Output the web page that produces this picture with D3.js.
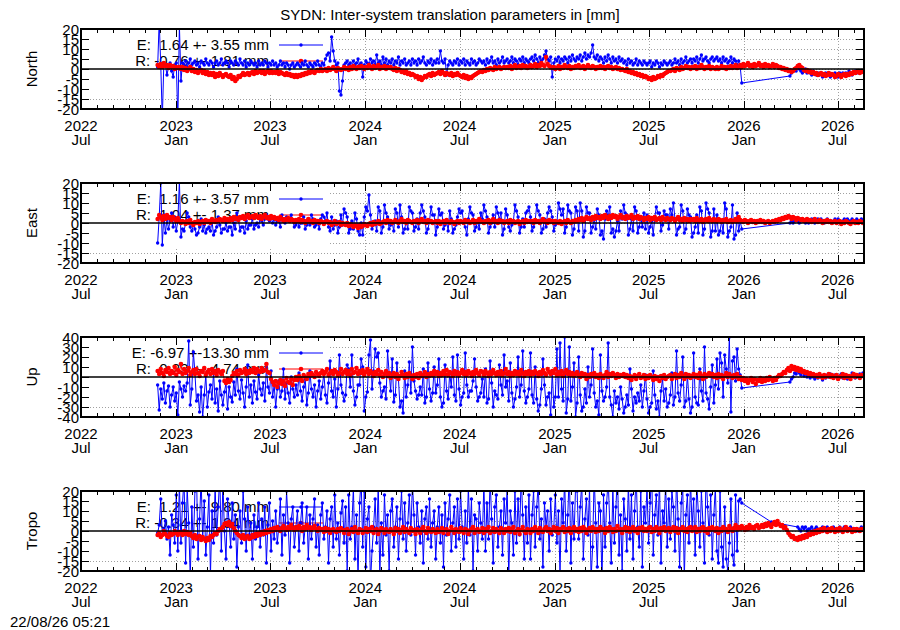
<!DOCTYPE html>
<html><head><meta charset="utf-8">
<script src="https://cdn.jsdelivr.net/npm/d3@7"></script>
<style>
body{margin:0;background:#fff}
text{font-family:"Liberation Sans",Arial,Helvetica,sans-serif;font-size:15px;fill:#000}
</style>
</head><body>
<svg id="chart" width="900" height="630"></svg>
<script>
// ---------------- data ----------------
const TITLE = "SYDN: Inter-system translation parameters in [mm]";
const STAMP = "22/08/26 05:21";
const START = "2022-11-26";      // first sample
const STEP_DAYS = 3;             // sample spacing (days)
const X_DOMAIN = ["2022-07-01", "2026-08-21"];
const panelNames = ["North", "East", "Up", "Tropo"];
const yTicks20 = [-20, -15, -10, -5, 0, 5, 10, 15, 20];
const yTicks40 = [-40, -30, -20, -10, 0, 10, 20, 30, 40];
const legendE = ["E:  1.64 +- 3.55 mm", "E:  1.16 +- 3.57 mm", "E: -6.97 +-13.30 mm", "E:  1.21 +- 9.80 mm"];
const legendR = ["R: -0.76 +- 1.81 mm", "R:  1.04 +- 1.37 mm", "R:  0.23 +- 4.74 mm", "R: -0.34 +- 1.94 mm"];
const _ = null;

const northE = [
1,24,2,-25,3,2,-3,1,3,-1,-4,2,3,-26,22,
-6,3,2,4,1,3,5,2,3,4,2,3,1,4,3,
2,5,3,2,4,3,1,3,4,2,3,5,2,3,4,
3,1,4,3,2,4,3,2,5,3,2,4,1,3,2,
4,3,2,3,1,4,2,3,2,4,3,1,3,2,4,
2,3,1,2,4,2,3,1,3,2,0,2,3,1,2,
3,2,1,3,2,4,2,1,3,2,1,3,2,4,2,
1,3,2,5,7,8,4,16,9,4,2,3,-11,-13,-6,
2,3,4,2,3,1,4,2,3,5,2,3,-4,2,4,
3,2,5,3,4,2,7,3,4,2,6,3,5,2,4,
3,5,2,4,3,6,2,4,3,5,2,3,4,2,5,
3,4,2,5,3,4,6,3,2,4,3,5,2,4,3,
5,3,9,4,3,5,-3,2,4,3,2,4,3,5,2,
4,3,5,2,4,3,2,5,3,4,2,3,5,4,3,
4,2,5,3,4,6,3,4,2,5,3,4,6,3,4,
5,3,4,6,3,5,4,2,5,4,6,3,5,4,3,
5,6,4,7,5,3,6,4,5,7,9,5,4,6,-4,
3,5,4,6,3,5,4,6,5,3,6,4,7,5,4,
6,5,7,4,6,8,5,7,6,8,12,6,5,7,4,
6,5,3,6,4,7,5,3,6,4,5,3,6,4,5,
3,4,2,5,3,4,2,3,5,2,4,3,2,4,3,
2,3,4,1,3,2,4,3,1,3,2,4,3,2,3,
4,2,3,5,3,4,2,5,3,4,6,3,4,5,3,
5,4,6,3,5,7,4,5,6,4,3,5,6,4,5,
6,4,5,3,6,4,5,3,4,6,3,5,4,2,4,
1,-7,_,_,_,_,_,_,_,_,_,_,_,_,_,
_,_,_,_,_,_,_,_,_,_,_,_,_,_,_,
_,_,-3.5,-2,-1,0,-1,1,0,-1,-2,-1,0,-2,-1,
-2,-3,-1,-2,-3,-2,-3,-2,-4,-3,-2,-3,-2,-4,-3,
-3,-2,-3,-4,-2,-3,-2,-3,-2,-3,-1,-2,-3,-2,-1,
-2,-1,-2,-1,-1];
const northR = [
2,1,2.5,1,3,1.5,2,0.5,2,1,1.5,0,1,0.5,1,
0,1,-0.5,0.5,-1,0,1,-1,0,-1.5,-0.5,-2,-1,-0.5,-2,
-1,-2.5,-1.5,-3,-2,-3,-2,-4,-2.5,-3.5,-2,-3,-4,-3,-2.5,
-3.5,-4,-3,-5,-4,-6,-5,-3.5,-4,-3,-2,-3,-2.5,-2,-3,
-2,-1.5,-2.5,-1,-2,-1.5,-1,-2,-1,-2.5,-1.5,-1,-2,-1,-2,
-1.5,-2,-1,-2.5,-1.5,-2,-2.5,-3,-2,-3,-2.5,-3.5,-3,-4,-3,
-4,-3,-3.5,-2.5,-3,-2,-2.5,-1.5,-2,-1,-1.5,-2,-1,-0.5,-1,
0,-1,-0.5,0,-1,0.5,-0.5,0,1,0,-1,0.5,0,-0.5,0,
1,0,0.5,-0.5,1,0,1.5,0.5,0,1,0.5,1.5,1,0,1,
0.5,2,1,0,1.5,0.5,1,2,0,1,0.5,1.5,0,1,0.5,
1,0,-0.5,0.5,-1,0,-0.5,-1.5,-1,-2,-1,-2.5,-2,-3,-2.5,
-3,-4,-3.5,-5,-4,-5.5,-4.5,-3.5,-4,-3,-2.5,-3.5,-2,-3,-2.5,
-2,-1.5,-2.5,-1,-2,-3,-2,-2.5,-3,-2,-3.5,-2.5,-3,-2,-3,
-3.5,-4,-3,-4.5,-3.5,-5,-4,-4.5,-3.5,-3,-2.5,-2,-1.5,-1,-1.5,
-0.5,-1,0,-0.5,0.5,0,-0.5,1,0,0.5,1,0,0.5,1,0.5,
1,0.5,1.5,0,1,2,0.5,1,1.5,0.5,2,1,1.5,0.5,1,
2,1,1.5,2.5,1,2,1.5,3,2,1.5,6,2.5,1.5,1,0.5,
1,0,0.5,1.5,0,1,0.5,2,1,0.5,1.5,0,1,0.5,1.5,
1,2,0.5,1,1.5,0,1,2,1,0.5,1.5,1,0,1,0.5,
1.5,0.5,1,0,1,1.5,0.5,1,0,0.5,1,0,0.5,-0.5,0,
-0.5,-1,0,-1.5,-1,-2,-1.5,-2.5,-2,-3,-2.5,-3.5,-3,-4,-3.5,
-4,-5,-4.5,-5.5,-4,-5,-4.5,-3.5,-4,-3,-3.5,-2.5,-2,-1.5,-1,
-1,-0.5,0,-1,0.5,0,-0.5,1,0,0.5,1.5,0.5,1,0,1,
0.5,1.5,0,1,0.5,2,1,0,1,0.5,1.5,0,1,0.5,0,
1,0,0.5,1.5,0.5,1,0,1,0.5,1.5,0.5,1,2,0.5,1,
2,1,2.5,1.5,2,3,1.5,2,1,2.5,1.5,2,3,1.5,2,
1,2.5,1.5,2,1,1.5,2.5,1,2,1.5,0.5,1,0,0.5,-0.5,
0,-1,-0.5,-1.5,-1,0,0.5,1.5,2,1,0.5,-0.5,-1,-0.5,-1.5,
-1,-2,-1.5,-2.5,-2,-3,-2.5,-2,-3,-2.5,-3.5,-3,-2,-3,-2.5,
-3,-4,-3.5,-2.5,-3,-4,-3,-2.5,-3.5,-2.5,-3,-2,-2.5,-1.5,-2,
-1.5,-1,-2,-1,-1.5];
const eastE = [
-10,3,20,-11,4,-5,2,-3,1,5,-2,3,-4,1,21,
-7,-3,-4,0,5,3,-2,-4,-1,-3,-6,-5,-2,2,-4,
-1,-5,-3,-2,-4,1,-6,-4,-2,3,-1,-5,-3,-3,0,
-4,-2,-2,-6,0,-3,5,2,-4,-2,-2,-5,1,-3,-1,
-1,2,-3,-1,0,-2,3,1,-1,2,4,2,1,3,0,
2,-1,1,1,-2,4,2,0,3,1,2,4,1,-2,-1,
1,-2,0,0,3,-3,-1,2,-1,4,2,-2,-1,1,-3,
2,4,3,1,5,-2,-4,3,-3,-1,1,-5,-2,4,-1,
7,5,3,-5,-3,1,-3,5,2,-4,-6,0,-6,3,8,
6,14,4,-3,-1,1,-4,8,6,-5,-2,9,5,3,-3,
-1,0,-4,7,5,-2,9,3,-5,-3,1,-3,8,6,5,
-4,-2,2,-3,5,9,6,3,-5,-3,1,8,4,4,-6,
-2,7,4,5,-3,-1,1,-4,6,2,-5,-3,-1,3,7,
5,6,0,-2,-6,2,8,5,4,-4,-2,1,-3,5,2,
9,6,3,-5,-2,0,4,-2,8,5,2,5,-6,-3,7,
4,-2,-4,-1,1,9,6,3,-5,-2,2,-2,5,6,8,
3,-4,-2,1,9,6,4,-5,-3,2,-2,5,8,6,3,
-4,-1,0,10,7,4,7,-5,-2,9,6,5,-6,-3,8,
6,-4,10,6,-7,-4,8,5,5,-5,-2,2,-3,7,4,
-6,-4,-8,2,6,3,8,-5,-3,-7,-4,1,-4,6,2,
9,5,4,-6,-3,2,-4,8,6,-5,-2,3,-2,5,-3,
4,-5,-2,1,-6,3,8,5,5,-4,-1,6,4,4,-3,
7,4,10,2,-6,-3,-2,9,6,-5,-3,7,4,3,-7,
-5,-2,4,-5,8,6,-6,-3,10,7,5,-7,-4,7,-4,
4,-6,-4,1,-5,10,7,-7,-4,-2,9,-8,-6,5,-4,
1,-3,_,_,_,_,_,_,_,_,_,_,_,_,_,
_,_,_,_,_,_,_,_,_,_,_,_,_,_,_,
_,_,0,1,0,1,2,1,0,1,2,1,0,1,0,
1,2,1,0,1,2,1,2,1,0,1,2,1,1,0,
1,2,1,2,1,0,1,2,1,2,1,1,2,1,1,
2,1,1,2,1];
const eastR = [
2,4,3,1.5,3.5,2,4,2.5,3,1.5,3,2,1,2.5,1,
0,1,0.5,-0.5,1,0,1.5,0,-1,0.5,0,1,-0.5,0.5,1,
0,1.5,0.5,1,0,2,1,0.5,1.5,1,2,1.5,1,2.5,1.5,
2,1,2.5,1.5,3,2,2.5,1.5,3,2.5,3.5,2,3,4,2.5,
3,3.5,2.5,4,3,2.5,3.5,2,3,4,2.5,3,2,3.5,2.5,
3,2,2.5,1.5,3,2,1,2,1.5,2.5,1,2,1.5,0.5,1.5,
1,2,0.5,1.5,1,0,1,2,0.5,1,0,1.5,0.5,1,0,
1,0.5,-0.5,0.5,1,0,0.5,-1,0,1,-0.5,0,0.5,-1,0,
-0.5,-1,0,-1.5,-0.5,-1,-2,-1,-1.5,-2.5,-1,-2,-1.5,-0.5,-1,
-1.5,-0.5,0,-1,0.5,-0.5,0,1,-0.5,0,0.5,1,0,1.5,0.5,
1,0,0.5,1.5,0.5,0,1,2,0.5,1,0,1.5,1,0.5,0,
1,0.5,1.5,0,1,2,0.5,1,0,1.5,0.5,1,0,0.5,1,
0,1,-0.5,0.5,1,0,1.5,0.5,0,1,0.5,-0.5,0.5,1,0,
1,0.5,0,1.5,0.5,1,0,0.5,1.5,0,1,0.5,2,1,0.5,
0,1,0.5,1.5,0,1,2,0.5,1,0,1.5,0.5,1,0,0.5,
1,0,1.5,0.5,1,0,0.5,1,-0.5,0.5,1,0,1.5,0.5,1,
0.5,1,0,1.5,0.5,1,0,1,2,0.5,1,0,1.5,0.5,1,
0,1,0.5,0,1,-0.5,0.5,1,0,1.5,0.5,0,1,0.5,1.5,
1,2,1.5,2.5,1,2,3,2,2.5,1.5,3,2,3.5,2.5,3,
2,3.5,2.5,4,3,2,3.5,2.5,4,3,3.5,2,3,4,2.5,
3,2,3.5,2.5,3,4,2,3,2.5,3.5,2,3,2.5,1.5,2.5,
2,3,1.5,2.5,2,3,1.5,2,2.5,1.5,3,2,1.5,2.5,2,
1.5,2.5,2,1,2,3,1.5,2,1,2.5,1.5,2,1,2,1.5,
2,1,2.5,1.5,1,2,0.5,1.5,2,1,2.5,1.5,1,2,1.5,
1,2,1.5,0.5,1.5,1,2,0.5,1,1.5,0.5,1,2,1,3,
1.5,1,0.5,1.5,1,0,1,1.5,0.5,1,0,1,0.5,1.5,0.5,
1,0,0.5,1,0,0.5,1,0.5,1.5,1,2,1.5,2.5,2,3,
2.5,3.5,3,2,3,2.5,1.5,2.5,2,1.5,2,1,1.5,2,1,
1.5,0.5,1,2,1,0.5,1.5,1,0,1,0.5,1.5,0.5,1,0,
0.5,1,0,0.5,1,-0.5,0.5,0,1,0.5,0,-0.5,0.5,1,0,
0.5,0,1,0.5,0];
const upE = [
-8,-33,-12,-22,-6,-26,-14,-9,-30,-18,-10,-24,-16,-38,-5,
-12,-20,-9,-14,-6,36,-28,-12,25,4,-24,-18,-35,-10,-40,
-18,2,-30,-15,-8,-22,5,-26,-12,-34,-4,-18,-28,-15,-6,
-32,-10,-20,-25,-5,-18,8,-14,-22,-3,-16,-30,-10,12,-20,
-8,-26,-4,-15,-22,2,-12,-18,-6,-24,10,-10,-16,6,-20,
-8,-30,-12,-4,-20,-14,8,-22,-6,-16,-26,0,-12,-20,-8,
-18,4,-14,-24,-10,-2,-28,-16,6,-12,-20,-8,-30,-14,-4,
-22,-10,4,-18,-26,-6,16,-14,-20,-2,-30,-12,22,-8,-16,
-24,-18,12,8,-10,22,-14,-28,-20,-8,-8,18,10,-34,-20,
-15,22,37,-12,6,28,20,24,-6,-20,-14,-10,-22,26,4,
-14,18,-25,-18,14,-2,-30,-24,-36,6,-20,-8,15,-16,30,
-4,-14,-22,-18,-10,-18,8,-26,-20,14,-12,-24,-16,10,-16,
-8,18,-20,-30,-26,12,-14,-22,4,-10,20,-18,-24,22,-12,
-28,-20,-16,24,-8,-20,-14,-14,-4,18,-10,-24,-20,-16,-2,
-20,8,-26,-22,16,-6,-30,-14,-18,-22,12,-8,-18,22,-10,
-4,-24,14,-16,-30,-22,-10,20,-20,-8,26,-14,-26,-20,-12,
24,-18,-26,10,-22,-34,-28,-12,18,-8,-28,-20,-16,-38,6,
-30,-20,28,-20,34,-12,-24,40,-36,-22,30,-24,-10,14,-40,
-26,20,-18,-34,-30,-12,-26,10,-20,-8,28,-16,-30,-24,-38,
22,-14,-24,-20,-10,34,-20,-28,-40,-14,-26,-20,-32,-10,-22,
-36,-30,-18,-28,8,-12,-34,-20,-26,-16,-24,-8,-30,-14,2,
-22,-36,-30,-26,6,-18,-32,-24,-40,-14,-2,-24,-12,-30,-26,
-18,4,-28,-20,26,-16,-24,-8,20,-30,-24,2,-22,-36,-30,
24,-20,-26,-28,8,-14,-24,30,-16,-22,-32,-10,12,-26,-8,
18,-12,24,14,-20,22,8,-6,40,-35,16,20,-4,28,8,
2,-11,_,_,_,_,_,_,_,_,_,_,_,_,_,
_,_,_,_,_,_,_,_,_,_,_,_,_,_,_,
_,_,-5,-2,0,4,3,6,4,2,5,1,3,0,2,
-1,1,0,-2,1,-1,2,0,-3,1,-1,2,0,3,1,
-1,2,0,-2,1,3,-1,0,2,-2,1,0,4,1,-1,
2,0,3,1,4];
const upR = [
6,3,8,4,1,7,5,9,3,6,4,10,2,7,5,
13,3,8,4,6,9,2,5,7,3,8,4,1,6,5,
9,2,5,7,3,8,4,6,2,7,5,3,6,-4,-6,
-2,-5,-3,1,4,3,6,2,7,4,5,8,3,6,4,
7,5,9,4,8,6,5,9,6,7,13,5,4,-2,-5,
-8,-4,-10,-6,-3,-7,-4,-9,-1,-5,-6,-2,-8,-3,0,
-3,1,-1,-4,2,0,-2,3,1,4,2,0,5,3,1,
4,6,3,5,8,2,4,6,3,7,5,2,4,8,3,
5,7,3,6,2,8,4,5,9,3,6,4,7,2,5,
8,3,6,4,1,5,3,7,2,5,0,3,6,1,4,
-1,2,4,0,3,-2,1,5,2,-1,3,0,4,1,-2,
2,0,3,-1,4,1,2,5,0,3,1,4,2,6,3,
5,1,4,2,6,3,7,2,5,4,1,6,3,5,2,
4,7,3,5,2,6,4,1,5,3,7,4,2,6,5,
2,6,4,1,5,3,7,4,2,5,3,6,2,4,8,
3,5,1,4,2,6,3,5,2,7,4,1,5,3,6,
2,5,3,6,4,1,5,3,7,4,2,8,5,3,6,
4,8,2,5,3,6,1,4,7,3,5,2,4,1,3,
5,2,0,4,1,3,-2,2,0,3,1,4,0,2,-1,
3,1,-1,2,5,0,3,1,4,2,-1,3,0,2,1,
3,0,2,-1,1,-3,0,2,-2,1,3,-1,0,2,-2,
1,-1,2,0,-3,1,-2,0,-4,1,-1,2,-2,0,1,
2,-2,1,3,-1,2,0,4,1,-2,3,0,2,-1,1,
3,0,2,-1,4,1,-2,3,0,2,4,1,3,0,2,
-1,3,0,2,-2,1,4,0,3,1,-1,2,0,3,-2,
0,-3,-1,-4,-2,-6,-3,-1,-5,-2,-7,-3,-4,-1,-5,
-2,-4,-1,-3,0,-2,-4,-1,-3,0,2,1,3,5,4,
7,9,6,11,8,10,7,9,6,8,5,6,4,5,3,
4,2,3,1,2,0,3,1,-1,2,0,1,3,0,2,
-1,1,2,-2,0,1,3,-1,2,0,1,-2,1,3,0,
2,1,-1,2,1];
const tropoE = [
-1,3,16,-2,1,5,-4,2,-12,8,3,-6,18,-10,24,
-6,14,26,-16,22,4,-24,12,-8,20,30,-14,6,26,-4,
15,-12,2,18,-22,10,-6,22,-2,12,28,-10,25,0,-14,
16,4,-8,14,-4,8,-18,2,10,-6,20,6,-10,12,-2,
4,-14,8,-4,2,14,-8,6,-2,12,-16,3,14,-10,5,
-4,10,-6,2,16,-12,8,-2,20,4,-16,6,12,-8,2,
10,-10,4,14,-6,2,12,-14,8,-4,6,16,-8,3,-12,
8,14,-4,2,10,-16,6,12,-8,18,-4,4,-12,9,15,
-6,12,-20,18,-4,2,22,-14,8,-24,14,26,-8,20,-18,
6,12,-26,-10,2,16,-6,24,-22,4,-12,18,-2,8,-20,
10,16,-8,2,12,-14,6,20,-4,14,-10,4,18,-2,24,
8,-12,14,2,-6,10,-16,6,12,-4,16,-8,4,10,-14,
2,12,-6,8,-18,14,-2,6,18,-10,4,12,-8,16,-4,
20,2,-14,10,-6,22,-2,16,-20,8,6,-10,14,4,-4,
24,-10,14,-4,26,6,-16,12,18,-8,2,10,-12,16,4,
22,-24,10,4,-12,20,-6,16,-2,28,8,-14,12,-6,18,
-14,8,20,-8,12,24,-4,6,-18,14,2,10,-10,16,-2,
2,18,-6,10,-22,16,4,26,-10,8,30,-16,14,-4,22,
20,-4,12,24,-14,6,16,-2,22,-24,-8,28,4,-18,14,
10,-26,18,-8,14,26,4,-16,22,-6,12,30,-12,8,-20,
16,6,-10,24,-4,18,-14,10,28,2,-8,20,-18,12,4,
22,-6,14,30,-12,8,18,-2,26,-16,10,4,24,-8,16,
-4,20,12,-10,28,6,-18,14,22,-24,8,18,-6,26,2,
16,-12,24,10,-8,20,4,-16,30,12,-2,18,-14,8,22,
-10,-16,20,-8,-18,12,-14,-20,-6,16,-12,-17,18,-10,15,
16,14,_,_,_,_,_,_,_,_,_,_,_,_,_,
_,_,_,_,_,4.5,_,_,_,_,_,_,_,_,_,
_,_,_,_,_,_,_,2,1,0,2,1,2,0,1,
1,2,0,1,2,1,0,1,2,1,0,2,1,0,1,
2,1,0,1,2,0,1,2,1,0,1,2,1,0,1,
1,0,1,2,1];
const tropoR = [
-2,-1,-3,-2,0,-1.5,-2.5,-3,-1,-2,-1.5,0,-1,-2,-0.5,
-1,-2,0,-1.5,-0.5,-2,-1,-2.5,-3.5,-2,-4,-3,-2.5,-4.5,-3,
-4,-5,-3.5,-4.5,-2.5,-3,-2,-1,-1.5,0,1,0.5,2,3.5,4,
3,4.5,2.5,3.5,1.5,0,-1,-2,-2.5,-3.5,-2,-4,-3,-2.5,-4,
-3.5,-2,-3,-1.5,-2.5,-1,-2,-0.5,-1.5,0,-1,0.5,-0.5,1,0,
1.5,0.5,2,1,0,1.5,2.5,1,0.5,2,1,3,1.5,0.5,2,
1,2.5,1.5,0,2,1,3,1.5,2,0.5,1.5,2.5,1,0,1.5,
0.5,1,-0.5,1.5,0,1,-1,0.5,1,0,-0.5,1,0,1.5,0.5,
-1,0.5,1,-1.5,0,1,-0.5,2,0,-1,1,0.5,-1,0,1.5,
-0.5,1,0,2,-1,0.5,1,-1.5,0,1.5,0.5,-1,1,0,-0.5,
1,0,-1.5,1.5,0,1,-1,0.5,2,-0.5,1,0,-1,1.5,0,
0.5,-1.5,1,0,-1,1,2,0,-1,1.5,0,-0.5,1,0,-1,
1,-0.5,0,1.5,-1,0.5,1,-1.5,0,2,0.5,-1,1,0,-0.5,
1.5,0,-1,1,0.5,-1.5,0,1,2,-1,0.5,1,-0.5,0,1.5,
-1,1,0,2,-1,0,1.5,-0.5,1,0,-1,1.5,0.5,-1,1,
0,1.5,-0.5,1,2,-1,0,1,-1.5,0.5,2,0,-1,1,0.5,
-1,1,0,2,0.5,-1,1.5,0,-0.5,1,2,0,1,-1,0.5,
2,0,1.5,-1,1,0.5,2,-0.5,1,0,1.5,-1,1,2,0,
1,-0.5,1.5,0,2,1,-1,0.5,1.5,0,2,1,-0.5,1,0,
2,0.5,1,-1,1.5,0,2,1,-0.5,1,0,2.5,0.5,1,-1,
1,2,0,1.5,-0.5,1,2,0,1,-1,1.5,0.5,2,0,1,
0,1.5,2,-0.5,1,0,2,1,-1,1.5,0.5,2,0,1,1.5,
-0.5,1,2,0,1.5,-1,1,0.5,2,0,1,-0.5,1.5,2,0,
1,2,-0.5,1,0,1.5,2,0,1,-1,1.5,0.5,2,1,0,
1.5,-1,1,0,2,0.5,1,-0.5,2.5,1,0,1.5,3,1,2,
1,2.5,1.5,0.5,2,1,3,1.5,2,1,2.5,3,1.5,2,3,
2,3.5,2.5,4,3,2,3.5,4.5,3,5,3.5,2.5,3,1.5,2,
0.5,-1,-2,-3,-2.5,-4,-3.5,-4.5,-3,-4,-2.5,-3.5,-2,-3,-1.5,
-2,-0.5,-1.5,0,-1,0.5,-0.5,1,0,1.5,0.5,-0.5,1,0,1.5,
0.5,-0.5,1,0,1.5,0.5,-0.5,1,2,0,1,0.5,-0.5,1,0,
1,0.5,0,1,0.5];

const seriesE = [northE, eastE, upE, tropoE];
const seriesR = [northR, eastR, upR, tropoR];
const yTickSets = [yTicks20, yTicks20, yTicks40, yTicks20];

// ---------------- drawing ----------------
const svg = d3.select("#chart");
svg.append("rect").attr("width", 900).attr("height", 630).attr("fill", "#fff");

const PL = 81, PR = 864, PH = 80, TOP0 = 29, GAP = 154;
const parse = s => new Date(s + "T00:00:00Z");
const x = d3.scaleUtc().domain(X_DOMAIN.map(parse)).range([PL, PR]);
const t0 = parse(START);
const toPts = arr => arr.map((v, i) => ({t: d3.utcDay.offset(t0, i * STEP_DAYS), v}))
                        .filter(d => d.v !== null);

const majors = d3.utcMonth.every(6).range(x.domain()[0], d3.utcDay.offset(x.domain()[1], 1));
const minors = d3.utcMonth.range(x.domain()[0], d3.utcDay.offset(x.domain()[1], 1));
const fmtY = d3.utcFormat("%Y"), fmtM = d3.utcFormat("%b");

svg.append("text").attr("x", 450).attr("y", 20).attr("text-anchor", "middle").text(TITLE);
svg.append("text").attr("x", 10).attr("y", 627).text(STAMP);

const BLUE = "#0000ff", RED = "#ff0000", RB = 1.7, RR = 2.3;

panelNames.forEach((name, k) => {
  const top = TOP0 + GAP * k, bot = top + PH;
  const ticks = yTickSets[k];
  const y = d3.scaleLinear().domain(d3.extent(ticks)).range([bot, top]);
  const g = svg.append("g");
  const clipId = "clip" + k;
  svg.append("clipPath").attr("id", clipId).append("rect")
     .attr("x", PL).attr("y", top).attr("width", PR - PL).attr("height", PH);

  // grid
  const grid = g.append("g").attr("stroke", "#a0a0a0").attr("stroke-width", 1)
     .attr("stroke-dasharray", "1,2").attr("shape-rendering", "crispEdges");
  majors.filter(d => x(d) > PL + 1 && x(d) < PR - 1).forEach(d => {
    grid.append("line").attr("x1", Math.round(x(d)) + 0.5).attr("x2", Math.round(x(d)) + 0.5)
        .attr("y1", top).attr("y2", bot);
  });
  ticks.slice(1, -1).forEach(v => {
    grid.append("line").attr("x1", PL).attr("x2", PR)
        .attr("y1", Math.round(y(v)) + 0.5).attr("y2", Math.round(y(v)) + 0.5);
  });

  // opaque key area
  g.append("rect").attr("x", PL + 1).attr("y", top + 1).attr("width", 248).attr("height", 64).attr("fill", "#fff");

  // key
  const key = g.append("g");
  key.append("text").attr("x", 269).attr("y", top + 21).attr("text-anchor", "end")
     .style("white-space", "pre").text(legendE[k]);
  key.append("text").attr("x", 269).attr("y", top + 37).attr("text-anchor", "end")
     .style("white-space", "pre").text(legendR[k]);
  [[top + 16, BLUE, RB], [top + 32, RED, RR]].forEach(([yy, c, r]) => {
    key.append("line").attr("x1", 279).attr("x2", 323).attr("y1", yy).attr("y2", yy)
       .attr("stroke", c).attr("stroke-width", 1);
    key.append("circle").attr("cx", 301).attr("cy", yy).attr("r", r).attr("fill", c);
  });

  // data
  const dg = g.append("g").attr("clip-path", `url(#${clipId})`);
  const line = d3.line().x(d => x(d.t)).y(d => y(d.v));
  [[seriesE[k], BLUE, RB], [seriesR[k], RED, RR]].forEach(([arr, c, r]) => {
    const pts = toPts(arr);
    dg.append("path").datum(pts).attr("d", line).attr("fill", "none")
      .attr("stroke", c).attr("stroke-width", 1);
    dg.append("g").selectAll("circle").data(pts).join("circle")
      .attr("cx", d => x(d.t)).attr("cy", d => y(d.v)).attr("r", r).attr("fill", c);
  });

  // zero axis
  g.append("line").attr("x1", PL).attr("x2", PR).attr("y1", y(0)).attr("y2", y(0))
   .attr("stroke", "#000").attr("stroke-width", 1.5);

  // ticks
  const tk = g.append("g").attr("stroke", "#000").attr("stroke-width", 1).attr("shape-rendering", "crispEdges");
  minors.forEach(d => {
    const xx = Math.round(x(d)) + 0.5;
    const len = d.getUTCMonth() % 6 === 0 ? 8 : 4;
    tk.append("line").attr("x1", xx).attr("x2", xx).attr("y1", bot).attr("y2", bot - len);
    tk.append("line").attr("x1", xx).attr("x2", xx).attr("y1", top).attr("y2", top + len);
  });
  ticks.forEach(v => {
    const yy = Math.round(y(v)) + 0.5;
    tk.append("line").attr("x1", PL).attr("x2", PL + 8).attr("y1", yy).attr("y2", yy);
    tk.append("line").attr("x1", PR - 8).attr("x2", PR).attr("y1", yy).attr("y2", yy);
  });

  // frame
  g.append("rect").attr("x", PL).attr("y", top).attr("width", PR - PL).attr("height", PH)
   .attr("fill", "none").attr("stroke", "#000").attr("stroke-width", 2);

  // y tick labels
  ticks.forEach(v => {
    g.append("text").attr("x", 79).attr("y", y(v) + 5.5).attr("text-anchor", "end").text(v);
  });
  // x tick labels
  majors.forEach(d => {
    g.append("text").attr("x", x(d)).attr("y", bot + 21.5).attr("text-anchor", "middle").text(fmtY(d));
    g.append("text").attr("x", x(d)).attr("y", bot + 35.5).attr("text-anchor", "middle").text(fmtM(d));
  });
  // y axis label
  g.append("text").attr("transform", `translate(37,${(top + bot) / 2}) rotate(-90)`)
   .attr("text-anchor", "middle").text(name);
});
</script>
</body></html>
